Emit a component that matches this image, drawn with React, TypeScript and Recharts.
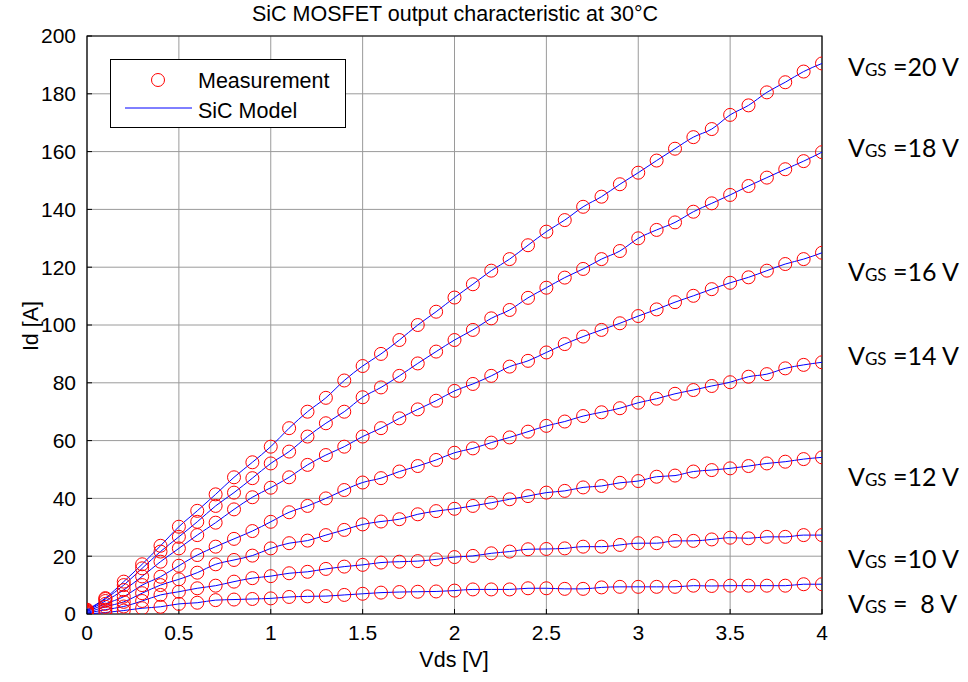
import { ComposedChart, Scatter, Line, XAxis, YAxis, CartesianGrid, ReferenceArea } from 'recharts'

const VDS = [
  0, 0.1, 0.2, 0.3, 0.4, 0.5, 0.6, 0.7, 0.8, 0.9,
  1, 1.1, 1.2, 1.3, 1.4, 1.5, 1.6, 1.7, 1.8, 1.9,
  2, 2.1, 2.2, 2.3, 2.4, 2.5, 2.6, 2.7, 2.8, 2.9,
  3, 3.1, 3.2, 3.3, 3.4, 3.5, 3.6, 3.7, 3.8, 3.9, 4,
]

const ID_VGS20 = [
  1.5, 5.5, 11.2, 17.2, 23.6, 30.2, 35.7, 41.4, 47.3, 52.5,
  57.9, 64.3, 70.0, 74.8, 80.8, 85.8, 90.0, 94.8, 100.0, 104.6,
  109.5, 114.1, 118.8, 122.8, 127.6, 132.3, 136.3, 140.9, 144.4, 148.7,
  152.7, 156.9, 161.0, 165.0, 167.8, 172.7, 176.0, 180.5, 184.0, 187.7, 190.5,
]
const ID_VGS18 = [
  1.2, 5.2, 10.0, 15.8, 21.6, 26.7, 31.9, 37.4, 42.0, 47.0,
  52.1, 56.2, 61.4, 66.0, 70.0, 75.0, 78.4, 82.4, 86.7, 90.8,
  94.8, 98.3, 102.3, 105.2, 109.4, 112.9, 116.4, 119.4, 122.8, 125.6,
  130.0, 132.9, 135.5, 139.2, 142.1, 145.0, 148.1, 151.0, 153.9, 156.7, 159.8,
]
const ID_VGS16 = [
  1.0, 4.5, 8.3, 13.0, 18.1, 22.7, 27.3, 31.6, 36.2, 40.4,
  43.7, 47.3, 51.6, 55.0, 57.9, 61.4, 64.3, 67.7, 70.8, 73.8,
  77.2, 79.6, 82.4, 85.6, 87.6, 90.5, 93.4, 96.0, 98.3, 100.6,
  103.1, 105.4, 107.9, 110.1, 112.4, 114.6, 116.5, 118.8, 121.1, 122.8, 125.0,
]
const ID_VGS14 = [
  0.8, 3.5, 6.0, 10.0, 12.9, 16.7, 20.4, 23.3, 26.0, 28.7,
  31.9, 35.2, 37.4, 40.0, 42.9, 45.5, 47.0, 49.3, 51.2, 53.3,
  55.8, 57.3, 59.3, 61.1, 63.1, 65.1, 66.6, 68.5, 69.8, 71.2,
  73.1, 74.5, 76.2, 77.5, 78.9, 80.2, 82.1, 83.0, 85.0, 86.2, 87.1,
]
const ID_VGS12 = [
  0.5, 2.5, 4.2, 7.2, 10.0, 12.0, 14.3, 17.2, 18.7, 20.2,
  22.7, 24.5, 25.4, 27.3, 29.1, 31.0, 32.0, 32.8, 34.5, 35.6,
  36.4, 37.4, 38.5, 39.7, 40.8, 42.0, 42.6, 43.8, 44.3, 45.4,
  46.0, 47.5, 47.9, 49.3, 49.8, 50.4, 51.2, 52.1, 52.7, 53.6, 54.2,
]
const ID_VGS10 = [
  0.3, 1.5, 2.6, 4.5, 6.6, 7.7, 8.9, 9.8, 11.2, 12.4,
  13.1, 14.1, 14.6, 15.6, 16.4, 17.0, 17.8, 18.1, 18.3, 18.9,
  19.7, 20.1, 21.0, 21.6, 22.4, 22.5, 22.7, 23.3, 23.3, 23.9,
  24.5, 24.5, 25.3, 25.3, 25.8, 26.4, 26.2, 26.7, 26.7, 27.3, 27.3,
]
const ID_VGS8 = [
  0, 0.5, 1.2, 2.0, 2.5, 3.5, 3.9, 4.8, 5.0, 5.2,
  5.4, 5.9, 6.1, 6.2, 6.6, 7.0, 7.4, 7.6, 7.7, 7.8,
  8.1, 8.5, 8.5, 8.5, 8.9, 8.9, 8.7, 8.7, 9.2, 9.4,
  9.4, 9.4, 9.4, 9.8, 9.7, 9.8, 9.8, 9.8, 9.8, 10.3, 10.3,
]

const CURVES = [ID_VGS20, ID_VGS18, ID_VGS16, ID_VGS14, ID_VGS12, ID_VGS10, ID_VGS8]
const VGS_LABELS = ['20 V', '18 V', '16 V', '14 V', '12 V', '10 V', '  8 V']
const X_TICKS = [0, 0.5, 1, 1.5, 2, 2.5, 3, 3.5, 4]
const Y_TICKS = [0, 20, 40, 60, 80, 100, 120, 140, 160, 180, 200]

// page y of each V_GS annotation (centre of the text)
const LABEL_Y = [66, 147, 271, 355, 476, 558, 603]

const FONT = '"Liberation Sans", Arial, Helvetica, sans-serif'
const tickStyle = { fontSize: 21, fill: '#000', fontFamily: FONT }

function Ring(props: any) {
  const { cx, cy } = props
  if (cx == null || cy == null) return null
  return <circle cx={cx} cy={cy} r={6.5} fill="none" stroke="#ff0000" strokeWidth={1} />
}

export default function App() {
  const series = CURVES.map((ids) => VDS.map((v, i) => ({ x: v, y: ids[i] })))

  return (
    <div style={{ position: 'absolute', left: 0, top: 0, width: 968, height: 682, background: '#fff', fontFamily: FONT }}>
      <ComposedChart width={968} height={682} margin={{ top: 36, right: 146, bottom: 38, left: 37 }}>
        <CartesianGrid stroke="#9a9a9a" strokeWidth={1} />
        <ReferenceArea x1={0} x2={4} y1={0} y2={200} fill="none" stroke="#000" strokeWidth={1.2} ifOverflow="visible" />
        <XAxis
          type="number"
          dataKey="x"
          domain={[0, 4]}
          ticks={X_TICKS}
          allowDataOverflow
          height={30}
          stroke="#000"
          tickSize={-5}
          tickMargin={16}
          tick={tickStyle}
          axisLine={false}
        />
        <XAxis xAxisId="top" orientation="top" type="number" dataKey="x" domain={[0, 4]} ticks={X_TICKS} height={0} tick={false} tickSize={-5} axisLine={false} stroke="#000" />
        <YAxis
          type="number"
          dataKey="y"
          domain={[0, 200]}
          ticks={Y_TICKS}
          allowDataOverflow
          width={50}
          stroke="#000"
          tickSize={-5}
          tickMargin={16}
          tick={tickStyle}
          axisLine={false}
        />
        <YAxis yAxisId="right" orientation="right" type="number" domain={[0, 200]} ticks={Y_TICKS} width={0} tick={false} tickSize={-5} axisLine={false} stroke="#000" />
        {series.map((pts, k) => (
          <Scatter key={'m' + k} data={pts} dataKey="y" shape={<Ring />} isAnimationActive={false} />
        ))}
        {series.map((pts, k) => (
          <Line key={'l' + k} data={pts} dataKey="y" type="monotone" stroke="#0000ff" strokeWidth={1} dot={false} activeDot={false} isAnimationActive={false} />
        ))}
      </ComposedChart>

      <div style={{ position: 'absolute', left: 455, top: 2, transform: 'translateX(-50%)', fontSize: 21.5, whiteSpace: 'nowrap' }}>
        SiC MOSFET output characteristic at 30°C
      </div>

      <div style={{ position: 'absolute', left: 454, top: 648, transform: 'translateX(-50%)', fontSize: 21.5, whiteSpace: 'nowrap' }}>
        Vds [V]
      </div>
      <div style={{ position: 'absolute', left: 31, top: 326, transform: 'translate(-50%, -50%) rotate(-90deg)', fontSize: 21.5, whiteSpace: 'nowrap' }}>
        Id [A]
      </div>

      <div style={{ position: 'absolute', left: 110, top: 59, width: 234, height: 67, border: '1px solid #000', background: '#fff', fontSize: 21.5 }}>
        <svg width={90} height={67} style={{ position: 'absolute', left: 0, top: 0 }}>
          <circle cx={47} cy={20} r={6.5} fill="none" stroke="#ff0000" />
          <line x1={14} x2={81} y1={48} y2={48} stroke="#0000ff" />
        </svg>
        <div style={{ position: 'absolute', left: 87, top: 9, whiteSpace: 'nowrap', lineHeight: '25px' }}>Measurement</div>
        <div style={{ position: 'absolute', left: 87, top: 39, whiteSpace: 'nowrap', lineHeight: '25px' }}>SiC Model</div>
      </div>

      {VGS_LABELS.map((t, i) => (
        <div
          key={t}
          style={{
            position: 'absolute',
            left: 848,
            top: LABEL_Y[i],
            transform: 'translateY(-50%)',
            fontFamily: 'Lato, "Open Sans", sans-serif',
            fontSize: 25,
            whiteSpace: 'pre',
          }}
        >
          V<span style={{ fontSize: 17 }}>GS</span> ={t}
        </div>
      ))}
    </div>
  )
}
